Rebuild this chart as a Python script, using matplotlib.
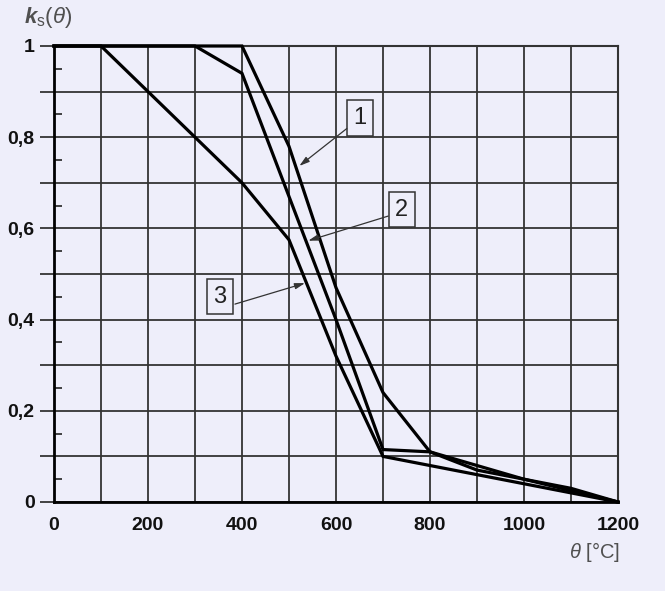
"""
Reduction factor ks(theta) of steel strength at elevated temperature
"""
import matplotlib
matplotlib.use('Agg')
import matplotlib.pyplot as plt
from matplotlib.ticker import FixedLocator, FuncFormatter

# Temperatures [°C] and the three curves
temps = [0, 100, 200, 300, 400, 500, 600, 700, 800, 900, 1000, 1100, 1200]
curve1 = [1.0, 1.0, 1.0, 1.0, 1.0, 0.78, 0.47, 0.24, 0.11, 0.07, 0.05, 0.025, 0.0]
curve2 = [1.0, 1.0, 1.0, 1.0, 0.94, 0.67, 0.40, 0.115, 0.11, 0.08, 0.05, 0.03, 0.0]
curve3 = [1.0, 1.0, 0.9, 0.8, 0.7, 0.575, 0.32, 0.10, 0.08, 0.06, 0.04, 0.02, 0.0]

labels = ['1', '2', '3']
label_pos = [(651, 0.842), (740, 0.641), (353, 0.450)]
arrow_from = [(623, 0.819), (711, 0.627), (385, 0.434)]
arrow_to = [(522, 0.737), (541, 0.573), (534, 0.480)]

BG = '#eeeefa'
GRID = '#333333'
TEXT = '#505050'

plt.rcParams['font.family'] = ['Liberation Sans', 'DejaVu Sans']
plt.rcParams['mathtext.fontset'] = 'custom'
plt.rcParams['mathtext.rm'] = 'Liberation Sans'
plt.rcParams['mathtext.it'] = 'Liberation Sans:italic'
plt.rcParams['mathtext.bf'] = 'Liberation Sans:bold'
plt.rcParams['mathtext.bfit'] = 'Liberation Sans:bold:italic'

fig = plt.figure(figsize=(6.65, 5.91), dpi=100, facecolor=BG)
ax = fig.add_axes([54 / 665, 1 - 502 / 591, 564 / 665, 456 / 591])
ax.set_facecolor(BG)

for ys in (curve1, curve2, curve3):
    ax.plot(temps, ys, color='black', linewidth=2.3, solid_joinstyle='miter',
            clip_on=False, zorder=5)

ax.set_xlim(0, 1200)
ax.set_ylim(0, 1)

# Grid every 100 °C and every 0.1, labels every 200 °C / 0.2
ax.xaxis.set_major_locator(FixedLocator(list(range(0, 1201, 100))))
ax.xaxis.set_major_formatter(FuncFormatter(lambda v, p: f'{v:.0f}' if round(v) % 200 == 0 else ''))
ax.xaxis.set_minor_locator(FixedLocator([0, 1200]))
ax.yaxis.set_major_locator(FixedLocator([i / 10 for i in range(11)]))
ax.yaxis.set_major_formatter(FuncFormatter(
    lambda v, p: ('1' if v > 0.99 else '0' if v < 0.01 else f'{v:.1f}'.replace('.', ','))
    if round(v * 10) % 2 == 0 else ''))
ax.yaxis.set_minor_locator(FixedLocator([i / 10 + 0.05 for i in range(10)]))

ax.tick_params(axis='x', which='major', length=0, pad=11, labelsize=14, labelcolor='#111111')
ax.tick_params(axis='x', which='minor', length=7, width=2, direction='out', color='black')
ax.tick_params(axis='y', which='major', length=10, width=1.3, direction='out', color=GRID,
               pad=4, labelsize=14, labelcolor='#111111')
ax.tick_params(axis='y', which='minor', length=6, width=1.2, direction='in', color='#222222')
for lab in ax.get_xticklabels() + ax.get_yticklabels():
    lab.set_fontweight('bold')

ax.grid(True, which='major', color=GRID, linewidth=1.3)
ax.set_axisbelow(True)
for side in ('left', 'bottom'):
    ax.spines[side].set_color('black')
    ax.spines[side].set_linewidth(2)
for side in ('top', 'right'):
    ax.spines[side].set_color(GRID)
    ax.spines[side].set_linewidth(1.5)

# Curve labels with leader arrows
for lab, pos, a0, a1 in zip(labels, label_pos, arrow_from, arrow_to):
    ax.text(pos[0], pos[1], lab, fontsize=17, color='#222222', ha='center', va='center',
            bbox=dict(boxstyle='square,pad=0.28', facecolor=BG, edgecolor='#333333',
                      linewidth=1.1), zorder=6)
    ax.annotate('', xy=a1, xytext=a0,
                arrowprops=dict(arrowstyle='-|>,head_length=0.6,head_width=0.18',
                                color='#333333', linewidth=0.9, shrinkA=0, shrinkB=0),
                zorder=6)

fig.text(24 / 665, 1 - 23 / 591, r'$\mathbfit{k}_{\mathrm{s}}(\mathit{\theta})$',
         fontsize=16, color=TEXT, ha='left', va='baseline')
fig.text(620 / 665, 1 - 558 / 591, r'$\mathit{\theta}$ [°C]',
         fontsize=14.5, color=TEXT, ha='right', va='baseline')

fig.savefig('out.png', dpi=100, facecolor=BG)
